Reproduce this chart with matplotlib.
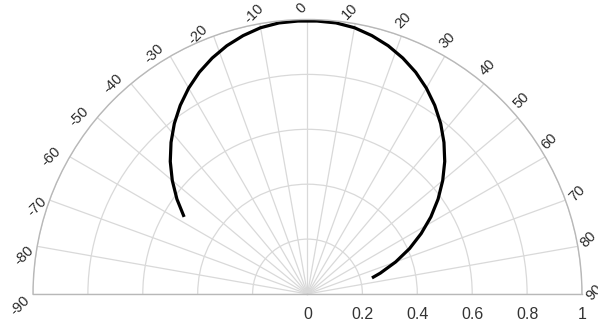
import numpy as np
import matplotlib.pyplot as plt

plt.rcParams['font.family'] = ['Liberation Sans', 'DejaVu Sans']

# curve (angle in degrees, radius)
theta_deg = [-58, -54, -50, -46, -42, -38, -34, -30, -26, -22, -18, -14, -10, -6, -2,
             2, 6, 10, 14, 18, 22, 26, 30, 34, 38, 42, 46, 50, 54, 58, 62, 66, 70, 74, 76]
r_vals = [0.530, 0.588, 0.643, 0.695, 0.743, 0.788, 0.829, 0.866, 0.899, 0.927, 0.951,
          0.970, 0.985, 0.993, 0.995, 0.995, 0.993, 0.985, 0.970, 0.951, 0.927, 0.899,
          0.866, 0.829, 0.788, 0.743, 0.695, 0.643, 0.588, 0.530, 0.469, 0.407, 0.342,
          0.276, 0.242]

angle_ticks = [-90, -80, -70, -60, -50, -40, -30, -20, -10, 0,
               10, 20, 30, 40, 50, 60, 70, 80, 90]
radial_ticks = [0, 0.2, 0.4, 0.6, 0.8, 1]
radial_labels = ['0', '0.2', '0.4', '0.6', '0.8', '1']

# label centre offsets from the end of each spoke, in pixels (x right, y down)
label_offsets = {-90: (-13, 12), -80: (-13, 9), -70: (-12.5, 6.5), -60: (-19, 0),
                 -50: (-18, -0.5), -40: (-18, 0), -30: (-16, -3), -20: (-16, -1.5),
                 -10: (-6, -10), 0: (-6, -11), 10: (-5, -12), 20: (2, -15.5),
                 30: (3, -16), 40: (4, -16), 50: (4, -17), 60: (4, -15),
                 70: (11.5, -6.5), 80: (10.7, -6.7), 90: (12, -2)}

W, H = 598, 322
cx, cy, R = 307.5, 294, 274.5   # centre and radius of the half disc, pixels from top-left
# matplotlib fits the half disc at half scale in the axes box, so give it a box twice as big
box_w, box_h = 4 * R, 2 * R
mid_y = cy - R / 2
fig = plt.figure(figsize=(W / 100, H / 100), dpi=100)
ax = fig.add_axes([(cx - box_w / 2) / W, (H - mid_y - box_h / 2) / H, box_w / W, box_h / H],
                  projection='polar')
ax.set_theta_zero_location('N')
ax.set_theta_direction(-1)
ax.set_thetamin(-90)
ax.set_thetamax(90)
ax.set_rlim(0, 1)

ax.set_thetagrids(angle_ticks, labels=[''] * len(angle_ticks))
ax.set_rgrids([0.2, 0.4, 0.6, 0.8, 1.0], labels=[''] * 5)
ax.grid(True, color='#d9d9d9', lw=0.9)
for sp in ax.spines.values():
    sp.set_color('#b8b8b8')
    sp.set_linewidth(1)
ax.tick_params(length=0)

ax.plot(np.deg2rad(theta_deg), r_vals, color='black', lw=2.3, solid_capstyle='butt')

for a in angle_ticks:
    dx, dy = label_offsets[a]
    ax.annotate(str(a), xy=(np.deg2rad(a), 1), xytext=(dx, -dy),
                textcoords='offset pixels', ha='center', va='center',
                rotation=45, rotation_mode='anchor', fontsize=10.5,
                color='#2b2b2b', annotation_clip=False)

for r, lab in zip(radial_ticks, radial_labels):
    ax.annotate(lab, xy=(np.pi / 2, r), xytext=(0, -20.5),
                textcoords='offset pixels', ha='center', va='center',
                fontsize=11.5, color='#333333', annotation_clip=False)

fig.savefig('out.png', dpi=100)
